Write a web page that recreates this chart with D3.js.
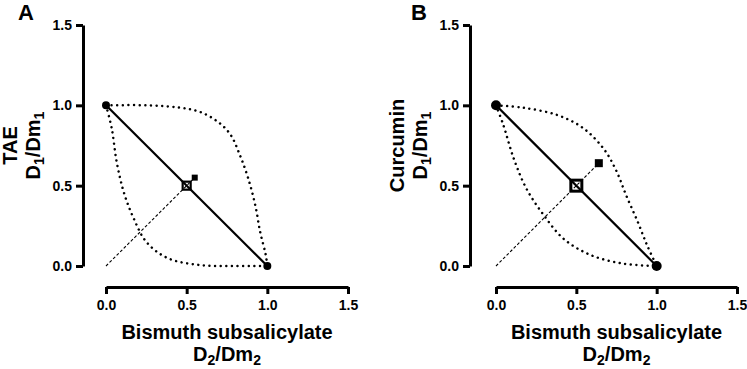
<!DOCTYPE html>
<html>
<head>
<meta charset="utf-8">
<script src="https://cdn.jsdelivr.net/npm/d3@7"></script>
<style>
  html, body { margin: 0; padding: 0; background: #fff; }
  svg { display: block; }
  text { font-family: "Liberation Sans", Arial, sans-serif; font-weight: bold; fill: #000; }
</style>
</head>
<body>
<svg id="chart" width="747" height="369"></svg>
<script>
// ---- data ----
const panelLetters = ["A", "B"];
const drugNames = ["TAE", "Curcumin"];
const xTitle = "Bismuth subsalicylate";
const xTicks = [0, 0.5, 1.0, 1.5];
const yTicks = [0, 0.5, 1.0, 1.5];
const tickLabels = ["0.0", "0.5", "1.0", "1.5"];

// single-agent endpoints (D1/Dm1 axis intercept, D2/Dm2 axis intercept)
const endpointsX = [0, 1];
const endpointsY = [1, 0];
// theoretical additive point
const theoreticalA = [0.5, 0.5];
const theoreticalB = [0.5, 0.5];
// experimental combination point
const experimentalA = [0.55, 0.55];
const experimentalB = [0.64, 0.64];

// confidence curves
const upperA = [[0, 1], [0.27, 1.0], [0.46, 0.985], [0.58, 0.96], [0.69, 0.9], [0.77, 0.82], [0.83, 0.69], [0.88, 0.55], [0.925, 0.38], [0.956, 0.21], [0.99, 0.07], [1, 0]];
const lowerA = [[0, 1], [0.035, 0.86], [0.066, 0.65], [0.11, 0.46], [0.17, 0.3], [0.25, 0.15], [0.38, 0.05], [0.58, 0.006], [0.79, 0], [1, 0]];
const upperB = [[0, 1], [0.17, 0.985], [0.38, 0.94], [0.54, 0.86], [0.67, 0.73], [0.75, 0.59], [0.81, 0.44], [0.88, 0.28], [0.94, 0.13], [1, 0]];
const lowerB = [[0, 1], [0.045, 0.88], [0.11, 0.67], [0.19, 0.48], [0.295, 0.32], [0.42, 0.17], [0.585, 0.07], [0.79, 0.015], [1, 0]];

const theoreticals = [theoreticalA, theoreticalB];
const experimentals = [experimentalA, experimentalB];
const uppers = [upperA, upperB];
const lowers = [lowerA, lowerB];

// ---- layout ----
const layout = [
  { x0: 106, x1: 348, yAxisX: 83, letterX: 18, sq: 8, sqW: 2.2, fsq: 6, r: 4 },
  { x0: 496, x1: 737, yAxisX: 470, letterX: 411, sq: 11, sqW: 3, fsq: 8, r: 5 }
];
const yTop = 25, yBot = 266, xAxisY = 287;

const svg = d3.select("#chart");

layout.forEach((L, i) => {
  const x = d3.scaleLinear().domain([0, 1.5]).range([L.x0, L.x1]);
  const y = d3.scaleLinear().domain([0, 1.5]).range([yBot, yTop]);
  const g = svg.append("g");

  // y axis
  const yAx = g.append("g").attr("transform", `translate(${L.yAxisX},0)`)
    .call(d3.axisLeft(y).tickValues(yTicks).tickSize(7).tickSizeOuter(0).tickPadding(4)
      .tickFormat((d, k) => tickLabels[k]));
  // x axis
  const xAx = g.append("g").attr("transform", `translate(0,${xAxisY})`)
    .call(d3.axisBottom(x).tickValues(xTicks).tickSize(7).tickSizeOuter(0).tickPadding(6)
      .tickFormat((d, k) => tickLabels[k]));
  [yAx, xAx].forEach(a => {
    a.select(".domain").attr("stroke", "#000").attr("stroke-width", 3);
    a.selectAll(".tick line").attr("stroke", "#000").attr("stroke-width", 3);
    a.selectAll(".tick text").style("font-size", "14px").style("font-family", "Liberation Sans, Arial, sans-serif").style("font-weight", "bold").attr("fill", "#000");
  });

  // dotted confidence curves
  const line = d3.line().x(d => x(d[0])).y(d => y(d[1])).curve(d3.curveCatmullRom.alpha(0.5));
  [uppers[i], lowers[i]].forEach(c => {
    g.append("path").attr("d", line(c)).attr("fill", "none").attr("stroke", "#000")
      .attr("stroke-width", 2.5).attr("stroke-linecap", "round").attr("stroke-dasharray", "0.01,5.6");
  });

  // additive line
  g.append("line")
    .attr("x1", x(endpointsX[0])).attr("y1", y(endpointsY[0]))
    .attr("x2", x(endpointsX[1])).attr("y2", y(endpointsY[1]))
    .attr("stroke", "#000").attr("stroke-width", 2.2);

  // dashed line from origin to experimental point
  const e = experimentals[i], t = theoreticals[i];
  g.append("line")
    .attr("x1", x(0)).attr("y1", y(0)).attr("x2", x(e[0])).attr("y2", y(e[1]))
    .attr("stroke", "#000").attr("stroke-width", 1.1).attr("stroke-dasharray", "3,2");

  // endpoint circles
  endpointsX.forEach((ex, k) => {
    g.append("circle").attr("cx", x(ex)).attr("cy", y(endpointsY[k])).attr("r", L.r).attr("fill", "#000");
  });

  // theoretical open square
  g.append("rect")
    .attr("x", x(t[0]) - L.sq / 2).attr("y", y(t[1]) - L.sq / 2)
    .attr("width", L.sq).attr("height", L.sq)
    .attr("fill", "none").attr("stroke", "#000").attr("stroke-width", L.sqW);
  // experimental filled square
  g.append("rect")
    .attr("x", x(e[0]) - L.fsq / 2).attr("y", y(e[1]) - L.fsq / 2)
    .attr("width", L.fsq).attr("height", L.fsq).attr("fill", "#000");

  // x title
  const cx = (L.x0 + L.x1) / 2;
  g.append("text").attr("x", cx).attr("y", 339).attr("text-anchor", "middle")
    .style("font-size", "20px").text(xTitle);
  const xt2 = g.append("text").attr("x", cx).attr("y", 361).attr("text-anchor", "middle").style("font-size", "20px");
  xt2.append("tspan").text("D");
  xt2.append("tspan").attr("dy", 4).style("font-size", "14px").text("2");
  xt2.append("tspan").attr("dy", -4).text("/Dm");
  xt2.append("tspan").attr("dy", 4).style("font-size", "14px").text("2");

  // y title (rotated)
  const cy = (yTop + yBot) / 2;
  g.append("text").attr("transform", `translate(${L.yAxisX - 66},${cy}) rotate(-90)`)
    .attr("text-anchor", "middle").style("font-size", "20px").text(drugNames[i]);
  const yt2 = g.append("text").attr("transform", `translate(${L.yAxisX - 43},${cy}) rotate(-90)`)
    .attr("text-anchor", "middle").style("font-size", "20px");
  yt2.append("tspan").text("D");
  yt2.append("tspan").attr("dy", 4).style("font-size", "14px").text("1");
  yt2.append("tspan").attr("dy", -4).text("/Dm");
  yt2.append("tspan").attr("dy", 4).style("font-size", "14px").text("1");

  // panel letter
  g.append("text").attr("x", L.letterX).attr("y", 20).style("font-size", "22px").text(panelLetters[i]);
});
</script>
</body>
</html>
